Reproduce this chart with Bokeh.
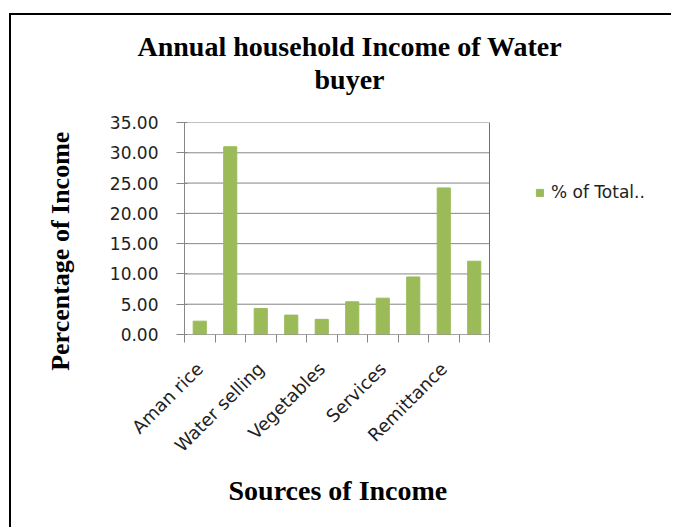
from math import pi
from bokeh.plotting import figure
from bokeh.models import (Range1d, FixedTicker, Legend, LegendItem, Title,
                          ColumnDataSource, PrintfTickFormatter)
from bokeh.embed import file_html
from bokeh.resources import INLINE

# ---- data ----
values = [2.2, 31.0, 4.3, 3.2, 2.5, 5.4, 6.0, 9.5, 24.2, 12.1]
tick_labels = ["Aman rice", "Water selling", "Vegetables", "Services", "Remittance"]
series_name = "% of Total.."
title_lines = ["Annual household Income of Water", "buyer"]
x_title = "Sources of Income"
y_title = "Percentage of Income"
y_ticks = [0, 5, 10, 15, 20, 25, 30, 35]

GREEN = "#9BBB59"
GRID = "#868686"
SERIF = "Liberation Serif"
SANS = "DejaVu Sans"
NB = "\u00a0"

# ---- layout constants (pixels) ----
W, H = 662, 514
LEFT, TOP, BOTTOM = 173, 107, 195
FRAME_W = W - LEFT          # frame runs to the right edge (legend lives inside it)
BARS_W = 305                # width of the bar area inside the frame

n = len(values)
xs = list(range(n))
labelled = xs[::2]
overrides = {i: lab for i, lab in zip(labelled, tick_labels)}
x0 = xs[0] - 0.5
x1 = xs[-1] + 0.5
x_end = x0 + (x1 - x0) * FRAME_W / BARS_W
y_max = y_ticks[-1]

p = figure(width=W, height=H, output_backend="svg", toolbar_location=None,
           x_range=Range1d(x0, x_end), y_range=Range1d(0, y_max),
           min_border_left=LEFT, min_border_right=0,
           min_border_top=TOP, min_border_bottom=BOTTOM)
p.background_fill_color = "white"
p.border_fill_color = "white"
p.outline_line_color = None
p.styles = {"margin-left": "9px", "margin-top": "13px",
            "border-left": "2px solid black", "border-top": "2px solid black"}

# gridlines and plot-area edge, limited to the bar area
k = len(y_ticks)
p.segment(x0=[x0] * k, x1=[x1] * k, y0=y_ticks, y1=y_ticks,
          line_color=GRID, line_width=1)
p.segment(x0=[x1], x1=[x1], y0=[0], y1=[y_max], line_color="#707070", line_width=1)

src = ColumnDataSource(dict(x=xs, v=values))
bars = p.vbar(x="x", top="v", width=0.43, source=src,
              fill_color=GREEN, line_color=GREEN)

# y axis
ya = p.yaxis[0]
ya.ticker = FixedTicker(ticks=y_ticks)
ya.formatter = PrintfTickFormatter(format="%.2f")
ya.axis_line_color = GRID
ya.major_tick_line_color = GRID
ya.major_tick_out = 8
ya.major_tick_in = 3
ya.minor_tick_line_color = None
ya.major_label_standoff = 18
ya.major_label_text_font = SANS
ya.major_label_text_font_size = "17px"
ya.major_label_text_color = "#222222"
ya.axis_label = y_title + NB * 7
ya.axis_label_text_font = SERIF
ya.axis_label_text_font_style = "bold"
ya.axis_label_text_font_size = "26px"
ya.axis_label_text_color = "black"
ya.axis_label_standoff = 32

# x axis
xa = p.xaxis[0]
xa.ticker = FixedTicker(ticks=labelled, minor_ticks=[i - 0.5 for i in range(n + 1)])
xa.major_label_overrides = overrides
xa.axis_line_color = None
xa.major_tick_line_color = None
xa.major_tick_out = 0
xa.major_tick_in = 0
xa.minor_tick_line_color = GRID
xa.minor_tick_out = 8
xa.minor_tick_in = 0
xa.major_label_orientation = pi / 4
xa.major_label_standoff = 23
xa.major_label_text_font = SANS
xa.major_label_text_font_size = "18px"
xa.major_label_text_color = "#222222"
# axis line limited to the bar area
p.segment(x0=[x0], x1=[x1], y0=[0], y1=[0], line_color=GRID, line_width=1)

p.xgrid.grid_line_color = None
p.ygrid.grid_line_color = None

# x-axis title, placed below the tick labels and centred under the bars
p.add_layout(Title(text=x_title, align="left", offset=44, standoff=12,
                   text_font=SERIF, text_font_style="bold", text_font_size="28px",
                   text_color="black"), "below")

# legend (inside the wide frame, to the right of the bars)
legend = Legend(items=[LegendItem(label=series_name, renderers=[bars])],
                location=(351, 132), orientation="vertical",
                glyph_width=9, glyph_height=9, label_standoff=7,
                label_text_font=SANS, label_text_font_size="17px",
                label_text_color="#222222", padding=0, margin=0,
                border_line_color=None, background_fill_alpha=0)
p.add_layout(legend, "center")

# titles (first added sits nearest the plot)
p.add_layout(Title(text=NB, standoff=25, text_font_size="1px"), "above")
p.add_layout(Title(text=title_lines[1], align="left", offset=130, standoff=0,
                   text_font=SERIF, text_font_style="bold", text_font_size="28px",
                   text_color="black"), "above")
p.add_layout(Title(text=title_lines[0], align="left", offset=-47, standoff=0,
                   text_font=SERIF, text_font_style="bold", text_font_size="28px",
                   text_color="black"), "above")

open("out.html", "w").write(file_html(p, INLINE))
